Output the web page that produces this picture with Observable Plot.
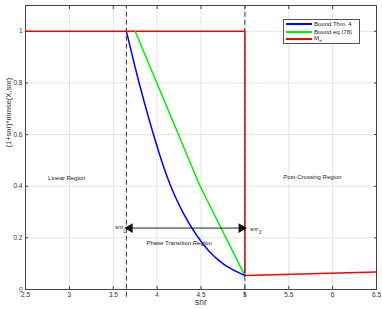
<!DOCTYPE html>
<html>
<head>
<meta charset="utf-8">
<script src="https://cdn.jsdelivr.net/npm/d3@7"></script>
<script src="https://cdn.jsdelivr.net/npm/@observablehq/plot@0.6"></script>
<style>
  body { margin: 0; background: #fff; font-family: "Liberation Sans", Arial, sans-serif; }
  #wrap { position: relative; width: 382px; height: 309px; }
  #legend { position: absolute; left: 283px; top: 19px; width: 75px; height: 23px; border: 1px solid #555; background: #fff; font-size: 6px; color: #222; }
  .row { position: absolute; left: 2px; height: 8px; display: flex; align-items: center; }
  .sw { width: 26px; height: 2px; margin-right: 2px; }
</style>
</head>
<body>
<div id="wrap"></div>
<script>
// ---- data ----
const xTicks = [2.5, 3, 3.5, 4, 4.5, 5, 5.5, 6, 6.5];
const yTicks = [0, 0.2, 0.4, 0.6, 0.8, 1];
const blueX = [3.65, 3.75, 3.85, 3.95, 4.05, 4.15, 4.30, 4.45, 4.60, 4.75, 4.90, 5.0];
const blueY = [1, 0.86, 0.73, 0.61, 0.50, 0.405, 0.295, 0.21, 0.145, 0.10, 0.07, 0.054];
const greenX = [3.75, 4.49, 5.0];
const greenY = [1, 0.4, 0.054];
const redX = [2.5, 5, 5, 6.5];
const redY = [1, 1, 0.054, 0.068];
const snrL = 3.65;
const snr0 = 5;
const arrowY = 0.238;
const legendNames = ["Bound Thm. 4", "Bound eq.(78)", "M∞"];
const legendColors = ["#0000ff", "#00ee00", "#ff0000"];

const blue = blueX.map((x, i) => ({x, y: blueY[i]}));
const green = greenX.map((x, i) => ({x, y: greenY[i]}));
const red = redX.map((x, i) => ({x, y: redY[i]}));

const font = "Liberation Sans, Arial, sans-serif";

const chart = Plot.plot({
  width: 382,
  height: 309,
  marginLeft: 25,
  marginRight: 6,
  marginTop: 5,
  marginBottom: 20,
  style: {fontFamily: font, fontSize: "6px", background: "#fff", color: "#333"},
  x: {domain: [2.5, 6.5]},
  y: {domain: [0, 1.1]},
  marks: [
    Plot.gridX(xTicks, {stroke: "#ddd", strokeOpacity: 1, strokeWidth: 0.8}),
    Plot.gridY(yTicks, {stroke: "#ddd", strokeOpacity: 1, strokeWidth: 0.8}),
    Plot.axisX(xTicks, {tickSize: -3, tickPadding: 6, tickFormat: d => String(d), stroke: "#444", fill: "#333", fontSize: 6.5, label: null}),
    Plot.axisX(xTicks, {anchor: "top", tickSize: -3, tickFormat: () => "", stroke: "#444", label: null}),
    Plot.axisY(yTicks, {tickSize: -3, tickPadding: 6, tickFormat: d => String(d), stroke: "#444", fill: "#333", fontSize: 6.5, label: null}),
    Plot.axisY(yTicks, {anchor: "right", tickSize: -3, tickFormat: () => "", stroke: "#444", label: null}),
    Plot.text(["snr"], {frameAnchor: "bottom", dy: 15.5, text: d => d, fontSize: 8.5, fill: "#333"}),
    Plot.text(["(1+snr)*mmse(X,snr)"], {frameAnchor: "left", dx: -17, rotate: -90, text: d => d, fontSize: 7.5, fill: "#333"}),
    Plot.frame({stroke: "#444", strokeWidth: 1}),
    Plot.line(red, {x: "x", y: "y", stroke: "#ff0000", strokeWidth: 1.6}),
    Plot.line(green, {x: "x", y: "y", stroke: "#00ee00", strokeWidth: 1.5}),
    Plot.line(blue, {x: "x", y: "y", stroke: "#0000ff", strokeWidth: 1.5, curve: "monotone-x"}),
    Plot.ruleX([snrL, snr0], {y1: -0.03, y2: 1.1, stroke: "#555", strokeWidth: 1.2, strokeDasharray: "5,3", clip: false}),
    Plot.ruleY([arrowY], {x1: snrL, x2: snr0, stroke: "#222", strokeWidth: 1, insetLeft: 5, insetRight: 5}),
    Plot.dot([snrL], {x: d => d, y: arrowY, rotate: -90, symbol: "triangle", r: 3.6, fill: "#111", stroke: "none", dx: 3.5}),
    Plot.dot([snr0], {x: d => d, y: arrowY, rotate: 90, symbol: "triangle", r: 3.6, fill: "#111", stroke: "none", dx: -3.5}),
    Plot.text(["Linear Region"], {x: 2.97, y: 0.43, text: d => d, fontSize: 6, fill: "#222"}),
    Plot.text(["Post-Crossing Region"], {x: 5.77, y: 0.435, text: d => d, fontSize: 6, fill: "#222"}),
    Plot.text(["Phase Transition Region"], {x: 4.25, y: 0.181, text: d => d, fontSize: 6, fill: "#222"}),
    Plot.text(["snr"], {x: snrL, y: arrowY, text: d => d, dx: -3, dy: -1, textAnchor: "end", fontSize: 6, fill: "#222"}),
    Plot.text(["L"], {x: snrL, y: arrowY, text: d => d, dx: -3, dy: 3, textAnchor: "start", fontSize: 4.5, fill: "#222"}),
    Plot.text(["snr"], {x: snr0, y: arrowY, text: d => d, dx: 5, dy: 1, textAnchor: "start", fontSize: 6, fill: "#222"}),
    Plot.text(["0"], {x: snr0, y: arrowY, text: d => d, dx: 14, dy: 4, textAnchor: "start", fontSize: 4.5, fill: "#222"})
  ]
});

const wrap = document.getElementById("wrap");
wrap.appendChild(chart);

const legend = document.createElement("div");
legend.id = "legend";
legendNames.forEach((name, i) => {
  const row = document.createElement("div");
  row.className = "row";
  row.style.top = (i * 7.5) + "px";
  const sw = document.createElement("div");
  sw.className = "sw";
  sw.style.background = legendColors[i];
  row.appendChild(sw);
  const t = document.createElement("span");
  if (name === "M∞") {
    t.innerHTML = "M<sub style='font-size:4.5px'>∞</sub>";
  } else {
    t.textContent = name;
  }
  row.appendChild(t);
  legend.appendChild(row);
});
wrap.appendChild(legend);
</script>
</body>
</html>
